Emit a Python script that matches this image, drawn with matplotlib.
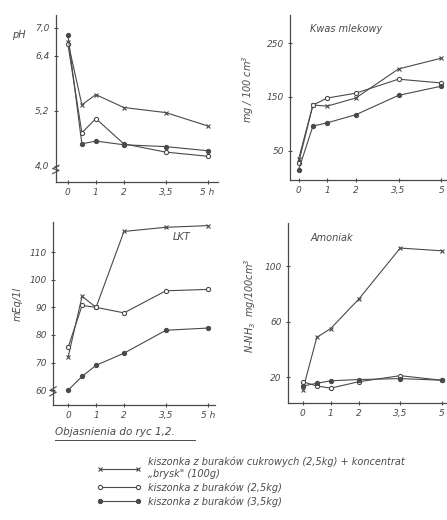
import matplotlib
matplotlib.use("Agg")
import matplotlib.pyplot as plt
from matplotlib.lines import Line2D

plt.rcParams['font.family'] = ['DejaVu Sans']
plt.rcParams['font.style'] = 'italic'

kolor = '#4a4a4a'

# czas (h)
czas = [0, 0.5, 1, 2, 3.5, 5]

# pH
ph_x = [6.7, 5.33, 5.55, 5.27, 5.16, 4.87]
ph_o = [6.65, 4.72, 5.03, 4.48, 4.30, 4.21]
ph_f = [6.85, 4.48, 4.54, 4.46, 4.42, 4.33]

# kwas mlekowy mg/100cm3
km_x = [35, 135, 133, 148, 202, 222]
km_o = [28, 135, 148, 157, 183, 176]
km_f = [15, 96, 102, 117, 153, 170]

# LKT mEq/1l
lkt_x = [72, 94, 90, 117.5, 119, 119.6]
lkt_o = [75.5, 90.7, 90, 88, 96, 96.5]
lkt_f = [60, 65, 69, 73.4, 81.7, 82.5]

# amoniak N-NH3 mg/100cm3
am_x = [11, 48.6, 55, 76, 113, 111]
am_o = [16.6, 13.6, 12, 16.6, 21, 17.7]
am_f = [13.6, 15.5, 17.3, 18.2, 18.9, 17.7]

xt_pos = [0, 1, 2, 3.5, 5]
xt_lab = ['0', '1', '2', '3,5', '5 h']

fig = plt.figure(figsize=(4.47, 5.2), dpi=100)
fig.patch.set_facecolor('white')

def os_(rect, xlim, ylim):
    ax = fig.add_axes(rect)
    ax.set_facecolor('none')
    ax.set_xlim(*xlim)
    ax.set_ylim(*ylim)
    for s in ['top', 'right']:
        ax.spines[s].set_visible(False)
    for s in ['left', 'bottom']:
        ax.spines[s].set_color(kolor)
        ax.spines[s].set_linewidth(0.9)
    ax.tick_params(colors=kolor, labelsize=6.5, length=3, width=0.8, direction='inout', pad=3)
    return ax

def serie(ax, yx, yo, yf):
    ax.plot(czas, yx, color=kolor, lw=0.8, marker='x', ms=3, mew=0.8, clip_on=False)
    ax.plot(czas, yo, color=kolor, lw=0.8, marker='o', ms=3, mfc='white', mew=0.8, clip_on=False)
    ax.plot(czas, yf, color=kolor, lw=0.8, marker='o', ms=3, mfc=kolor, mew=0.8, clip_on=False)

def zygzak(ax):
    # przerwanie osi
    ax.plot([-0.02, 0.02, -0.02, 0.02], [0.05, 0.07, 0.08, 0.10], transform=ax.transAxes,
            color=kolor, lw=0.8, clip_on=False)

# pH
ax1 = os_([0.125, 0.65, 0.362, 0.321], (-0.43, 5.36), (3.65, 7.28))
serie(ax1, ph_x, ph_o, ph_f)
ax1.set_yticks([4.0, 5.2, 6.4, 7.0])
ax1.set_yticklabels(['4,0', '5,2', '6,4', '7,0'])
ax1.set_xticks(xt_pos)
ax1.set_xticklabels(xt_lab)
ax1.text(-0.27, 0.86, 'pH', transform=ax1.transAxes, fontsize=7, color=kolor)
zygzak(ax1)

# kwas mlekowy
ax2 = os_([0.649, 0.654, 0.351, 0.317], (-0.3, 5.2), (-4, 302))
serie(ax2, km_x, km_o, km_f)
ax2.set_yticks([50, 150, 250])
ax2.set_xticks(xt_pos)
ax2.set_xticklabels(['0', '1', '2', '3,5', '5'])
ax2.set_ylabel('mg / 100 cm$^3$', fontsize=7, color=kolor)
ax2.yaxis.set_label_coords(-0.22, 0.55)
ax2.text(0.13, 0.9, 'Kwas mlekowy', transform=ax2.transAxes, fontsize=7, color=kolor)

# LKT
ax3 = os_([0.1186, 0.221, 0.362, 0.352], (-0.54, 5.25), (54.6, 120.9))
serie(ax3, lkt_x, lkt_o, lkt_f)
ax3.set_yticks([60, 70, 80, 90, 100, 110])
ax3.set_xticks(xt_pos)
ax3.set_xticklabels(xt_lab)
ax3.set_ylabel('mEq/1l', fontsize=7, color=kolor)
ax3.yaxis.set_label_coords(-0.185, 0.55)
ax3.text(0.74, 0.9, 'LKT', transform=ax3.transAxes, fontsize=7, color=kolor)
zygzak(ax3)

# amoniak
ax4 = os_([0.644, 0.225, 0.356, 0.346], (-0.54, 5.18), (1.3, 131))
serie(ax4, am_x, am_o, am_f)
ax4.set_yticks([20, 60, 100])
ax4.set_xticks(xt_pos)
ax4.set_xticklabels(['0', '1', '2', '3,5', '5'])
ax4.set_ylabel('N-NH$_3$  mg/100cm$^3$', fontsize=7, color=kolor)
ax4.yaxis.set_label_coords(-0.19, 0.54)
ax4.text(0.14, 0.9, 'Amoniak', transform=ax4.transAxes, fontsize=7, color=kolor)

# objasnienia
fig.text(55/447, 1 - 432/520, 'Objasnienia do ryc 1,2.', fontsize=7.5, color=kolor, va='center')
fig.add_artist(Line2D([55/447, 195/447], [1 - 440/520, 1 - 440/520], color=kolor, lw=0.7))

uchwyty = [
    Line2D([], [], color=kolor, lw=0.8, marker='x', ms=3, mew=0.8),
    Line2D([], [], color=kolor, lw=0.8, marker='o', ms=3, mfc='white', mew=0.8),
    Line2D([], [], color=kolor, lw=0.8, marker='o', ms=3, mfc=kolor, mew=0.8),
]
etykiety = [
    'kiszonka z buraków cukrowych (2,5kg) + koncentrat\n„brysk" (100g)',
    'kiszonka z buraków (2,5kg)',
    'kiszonka z buraków (3,5kg)',
]
fig.legend(uchwyty, etykiety, loc='upper left', bbox_to_anchor=(92/447, 1 - 452/520),
           frameon=False, fontsize=7, numpoints=2, handlelength=4.5, handletextpad=0.8,
           labelspacing=0.35, labelcolor=kolor, borderpad=0)

fig.savefig('out.png', dpi=100)
